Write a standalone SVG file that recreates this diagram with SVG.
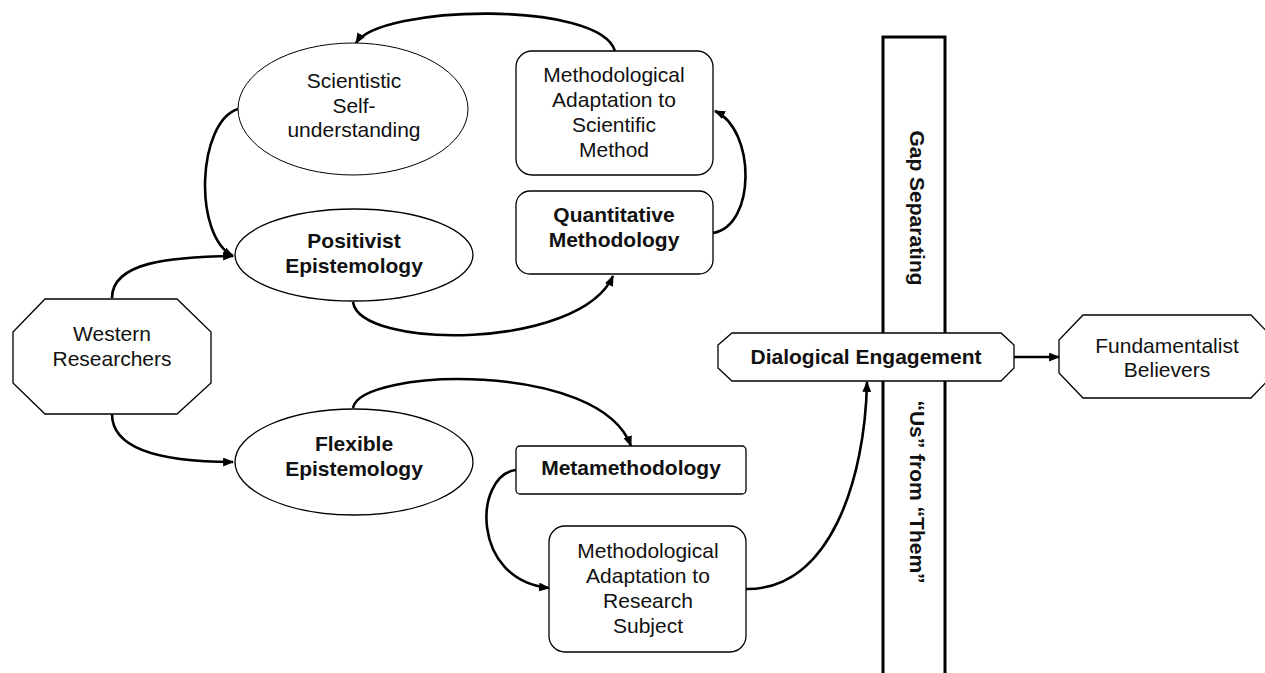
<svg xmlns="http://www.w3.org/2000/svg" width="1265" height="673" viewBox="0 0 1265 673">
<defs>
<marker id="ah" viewBox="0 0 10 8" refX="9" refY="4" markerWidth="11" markerHeight="9" markerUnits="userSpaceOnUse" orient="auto">
<path d="M0,0 L10,4 L0,8 z" fill="#000"/>
</marker>
</defs>
<style>
.n{fill:#fff;stroke:#000;stroke-width:1.3}
.t{font-family:"Liberation Sans",Arial,sans-serif;font-size:21px;fill:#111;text-anchor:middle}
.b{font-weight:bold}
.c{fill:none;stroke:#000;stroke-width:2.6;marker-end:url(#ah)}
.bar{fill:#fff;stroke:#000;stroke-width:3}
</style>
<rect x="0" y="0" width="1265" height="673" fill="#fff"/>

<g id="gap-bar">
<rect class="bar" x="883" y="37" width="62" height="650"/>
<text class="t b" transform="translate(917,208) rotate(90)" y="7">Gap Separating</text>
<text class="t b" transform="translate(917,492) rotate(90)" y="7">“Us” from “Them”</text>
</g>

<g id="connectors">
<path class="c" d="M112,298 C112,262 170,257 233,256"/>
<path class="c" d="M112,414 C112,452 170,462 233,462"/>
<path class="c" d="M238,109 C197,122 193,236 233,256"/>
<path class="c" d="M353,302 C360,350 580,350 613,276"/>
<path class="c" d="M713,233 C756,226 756,130 715,111"/>
<path class="c" d="M615,51 C600,0 380,5 356,43"/>
<path class="c" d="M353,408 C360,368 600,360 631,446"/>
<path class="c" d="M516,470 C474,475 470,580 549,588"/>
<path class="c" d="M746,589 C830,590 865,480 867,382"/>
<path class="c" d="M1014,357 L1059,357"/>
</g>

<g id="scientistic">
<ellipse class="n" cx="353" cy="109" rx="115" ry="66" style="stroke-width:1"/>
<text class="t" x="354" y="88">Scientistic</text>
<text class="t" x="354" y="113">Self-</text>
<text class="t" x="354" y="137">understanding</text>
</g>

<g id="positivist">
<ellipse class="n" cx="354" cy="255" rx="119" ry="46"/>
<text class="t b" x="354" y="248">Positivist</text>
<text class="t b" x="354" y="273">Epistemology</text>
</g>

<g id="meth-sci">
<rect class="n" x="516" y="51" width="197" height="124" rx="16"/>
<text class="t" x="614" y="82">Methodological</text>
<text class="t" x="614" y="107">Adaptation to</text>
<text class="t" x="614" y="132">Scientific</text>
<text class="t" x="614" y="157">Method</text>
</g>

<g id="quantitative">
<rect class="n" x="516" y="191" width="197" height="83" rx="14"/>
<text class="t b" x="614" y="222">Quantitative</text>
<text class="t b" x="614" y="247">Methodology</text>
</g>

<g id="western">
<polygon class="n" points="45,299 177,299 211,332 211,383 177,414 45,414 13,383 13,332"/>
<text class="t" x="112" y="341">Western</text>
<text class="t" x="112" y="366">Researchers</text>
</g>

<g id="flexible">
<ellipse class="n" cx="354" cy="462" rx="119" ry="53"/>
<text class="t b" x="354" y="451">Flexible</text>
<text class="t b" x="354" y="476">Epistemology</text>
</g>

<g id="metamethodology">
<rect class="n" x="516" y="446" width="230" height="48" rx="4"/>
<text class="t b" x="631" y="475">Metamethodology</text>
</g>

<g id="meth-research">
<rect class="n" x="549" y="526" width="197" height="126" rx="16"/>
<text class="t" x="648" y="558">Methodological</text>
<text class="t" x="648" y="583">Adaptation to</text>
<text class="t" x="648" y="608">Research</text>
<text class="t" x="648" y="633">Subject</text>
</g>

<g id="dialogical">
<polygon class="n" points="732,333 1001,333 1014,345 1014,368 1001,381 732,381 718,368 718,345"/>
<text class="t b" x="866" y="364">Dialogical Engagement</text>
</g>

<g id="fundamentalist">
<polygon class="n" points="1083,315 1251,315 1275,340 1275,373 1251,398 1083,398 1059,373 1059,340"/>
<text class="t" x="1167" y="353">Fundamentalist</text>
<text class="t" x="1167" y="377">Believers</text>
</g>
</svg>
